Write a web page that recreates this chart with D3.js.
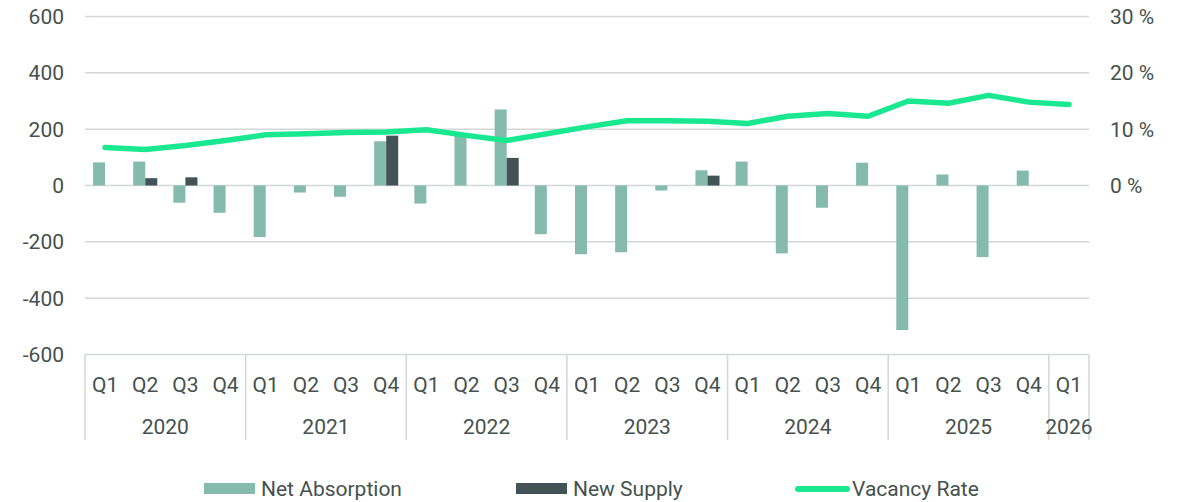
<!DOCTYPE html>
<html lang="en">
<head>
<meta charset="UTF-8">
<title>Net Absorption, New Supply and Vacancy Rate</title>
<script src="https://d3js.org/d3.v7.min.js"></script>
<style>
  body { margin: 0; background: #fff; }
  svg { display: block; font-family: Roboto, "Noto Sans", sans-serif; }
</style>
</head>
<body>
<svg width="1188" height="502"></svg>
<script>
// data
var years = ["2020", "2021", "2022", "2023", "2024", "2025", "2026"];
var quarters = ["Q1", "Q2", "Q3", "Q4"];
var periods = [];
years.forEach(function(y) {
    quarters.forEach(function(q) {
        if (y === "2026" && q !== "Q1") return;
        periods.push(y + " " + q);
    });
});

var netAbsorption = [82, 85, -61, -97, -183, -25, -40, 157, -64, 180, 270, -173,
    -244, -237, -18, 54, 85, -241, -79, 81, -513, 39, -254, 53, null];
var newSupply = [0, 26, 29, 0, 0, 0, 0, 177, 0, 0, 98, 0,
    0, 0, 0, 35, 0, 0, 0, 0, 0, 0, 0, 0, null];
var vacancyRate = [6.75, 6.4, 7.1, 8.0, 9.0, 9.2, 9.4, 9.5, 9.9, 8.9, 8.0, 9.2,
    10.4, 11.5, 11.5, 11.4, 11.0, 12.3, 12.8, 12.3, 15.0, 14.6, 16.0, 14.8, 14.4];

var leftTicks = [-600, -400, -200, 0, 200, 400, 600];
var rightTicks = [0, 10, 20, 30];

var svg = d3.select("svg"),
    plotLeft = 85, plotRight = 1089, plotTop = 16.5, plotBottom = 354.5;

var textColor = "#46514f",
    gridColor = "#d3d7d8",
    fontSize = 21;

var x = d3.scaleBand()
    .domain(periods)
    .range([plotLeft, plotRight])
    .padding(0);

var series = ["na", "ns"];
var x1 = d3.scaleBand()
    .domain(series)
    .range([0, x.bandwidth()])
    .paddingInner(0)
    .paddingOuter(0.67);

var y = d3.scaleLinear().domain([-600, 600]).range([plotBottom, plotTop]);
var yR = d3.scaleLinear().domain([-30, 30]).range([plotBottom, plotTop]);

// gridlines
svg.append("g")
    .selectAll("line")
    .data(leftTicks)
    .enter().append("line")
    .attr("x1", plotLeft)
    .attr("x2", plotRight)
    .attr("y1", function(d) { return y(d); })
    .attr("y2", function(d) { return y(d); })
    .attr("stroke", gridColor)
    .attr("stroke-width", 1.5);

// left labels
svg.append("g")
    .selectAll("text")
    .data(leftTicks)
    .enter().append("text")
    .attr("x", 64)
    .attr("y", function(d) { return y(d); })
    .attr("dy", "0.35em")
    .attr("text-anchor", "end")
    .attr("font-size", fontSize)
    .attr("fill", textColor)
    .text(function(d) { return d; });

// right labels
svg.append("g")
    .selectAll("text")
    .data(rightTicks)
    .enter().append("text")
    .attr("x", 1110)
    .attr("y", function(d) { return yR(d); })
    .attr("dy", "0.35em")
    .attr("font-size", fontSize)
    .attr("fill", textColor)
    .text(function(d) { return d + " %"; });

// bars
var barData = [];
periods.forEach(function(p, i) {
    if (netAbsorption[i] != null) barData.push({ p: p, key: "na", v: netAbsorption[i] });
    if (newSupply[i]) barData.push({ p: p, key: "ns", v: newSupply[i] });
});
var colors = { na: "#85bbad", ns: "#435255" };

svg.append("g")
    .selectAll("rect")
    .data(barData)
    .enter().append("rect")
    .attr("x", function(d) { return x(d.p) + x1(d.key); })
    .attr("width", x1.bandwidth())
    .attr("y", function(d) { return y(Math.max(0, d.v)); })
    .attr("height", function(d) { return Math.abs(y(d.v) - y(0)); })
    .attr("fill", function(d) { return colors[d.key]; });

// vacancy line
var line = d3.line()
    .x(function(d, i) { return x(periods[i]) + x.bandwidth() / 2; })
    .y(function(d) { return yR(d); });

svg.append("path")
    .datum(vacancyRate)
    .attr("d", line)
    .attr("fill", "none")
    .attr("stroke", "#1ae891")
    .attr("stroke-width", 5.5)
    .attr("stroke-linecap", "round")
    .attr("stroke-linejoin", "round");

// category axis: quarters and years
var axisG = svg.append("g");
var yearBounds = years.map(function(yr) {
    var ps = periods.filter(function(p) { return p.indexOf(yr) === 0; });
    return { yr: yr, x0: x(ps[0]), x1: x(ps[ps.length - 1]) + x.bandwidth() };
});

axisG.selectAll("line.div")
    .data([plotLeft].concat(yearBounds.map(function(d) { return d.x1; })))
    .enter().append("line")
    .attr("x1", function(d) { return d; })
    .attr("x2", function(d) { return d; })
    .attr("y1", plotBottom)
    .attr("y2", 440)
    .attr("stroke", gridColor)
    .attr("stroke-width", 1.5);

axisG.selectAll("text.q")
    .data(periods)
    .enter().append("text")
    .attr("x", function(d) { return x(d) + x.bandwidth() / 2; })
    .attr("y", 385)
    .attr("dy", "0.35em")
    .attr("text-anchor", "middle")
    .attr("font-size", fontSize)
    .attr("fill", textColor)
    .text(function(d) { return d.split(" ")[1]; });

axisG.selectAll("text.y")
    .data(yearBounds)
    .enter().append("text")
    .attr("x", function(d) { return (d.x0 + d.x1) / 2; })
    .attr("y", 427)
    .attr("dy", "0.35em")
    .attr("text-anchor", "middle")
    .attr("font-size", fontSize)
    .attr("fill", textColor)
    .text(function(d) { return d.yr; });

// legend
var legendItems = [
    { name: "Net Absorption", type: "rect", color: colors.na, x: 204 },
    { name: "New Supply", type: "rect", color: colors.ns, x: 516 },
    { name: "Vacancy Rate", type: "line", color: "#1ae891", x: 795 }
];
var legend = svg.append("g")
    .selectAll("g")
    .data(legendItems)
    .enter().append("g")
    .attr("transform", function(d) { return "translate(" + d.x + ",489)"; });

legend.filter(function(d) { return d.type === "rect"; })
    .append("rect")
    .attr("y", -6)
    .attr("width", 51)
    .attr("height", 11)
    .attr("fill", function(d) { return d.color; });

legend.filter(function(d) { return d.type === "line"; })
    .append("line")
    .attr("x1", 3)
    .attr("x2", 52)
    .attr("stroke", function(d) { return d.color; })
    .attr("stroke-width", 6)
    .attr("stroke-linecap", "round");

legend.append("text")
    .attr("x", 57)
    .attr("dy", "0.35em")
    .attr("font-size", fontSize)
    .attr("fill", textColor)
    .text(function(d) { return d.name; });
</script>
</body>
</html>
